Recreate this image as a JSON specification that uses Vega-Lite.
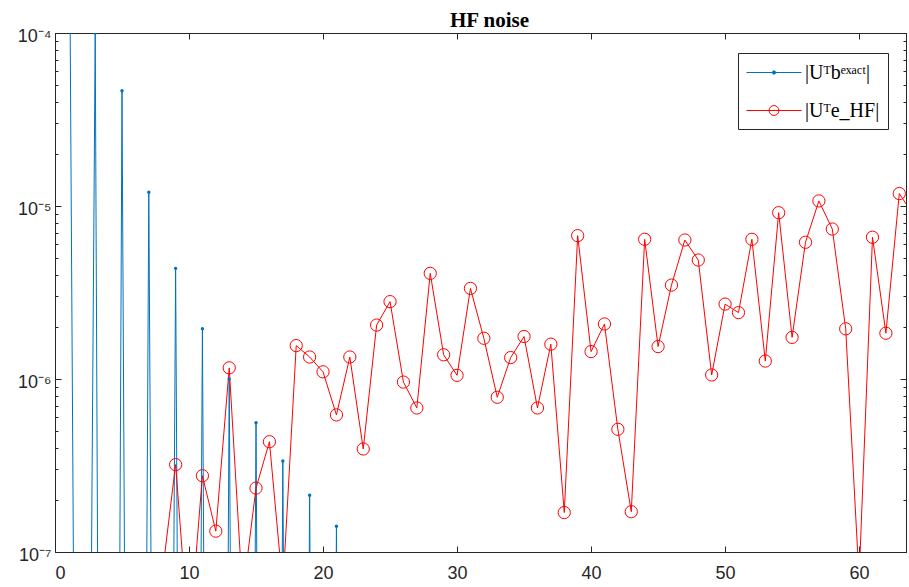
{
  "$schema": "https://vega.github.io/schema/vega-lite/v6.json",
  "autosize": "none",
  "width": 851,
  "height": 519,
  "padding": {"left": 55, "top": 33, "right": 3, "bottom": 35},
  "background": "white",
  "title": {"text": "HF noise", "font": "Liberation Serif", "fontSize": 21, "fontWeight": "bold", "color": "#000000", "offset": -4, "dx": 9},
  "config": {
    "view": {"stroke": "#262626", "strokeWidth": 1},
    "axis": {"grid": false, "title": null, "ticks": true, "tickWidth": 1, "zindex": 1, "domainColor": "#262626", "tickColor": "#262626", "labelColor": "#262626", "labelFont": "Liberation Sans", "labelFontSize": 18}
  },
  "data": {"values": [
    {"i":1,"series":"|Uᵀbᵉˣᵃᶜᵗ|","v":5e-3},{"i":2,"series":"|Uᵀbᵉˣᵃᶜᵗ|","v":1e-15},{"i":3,"series":"|Uᵀbᵉˣᵃᶜᵗ|","v":1.0e-4},{"i":4,"series":"|Uᵀbᵉˣᵃᶜᵗ|","v":1e-21},
    {"i":5,"series":"|Uᵀbᵉˣᵃᶜᵗ|","v":4.64e-5},{"i":6,"series":"|Uᵀbᵉˣᵃᶜᵗ|","v":1e-19},{"i":7,"series":"|Uᵀbᵉˣᵃᶜᵗ|","v":1.2e-5},{"i":8,"series":"|Uᵀbᵉˣᵃᶜᵗ|","v":1e-18},
    {"i":9,"series":"|Uᵀbᵉˣᵃᶜᵗ|","v":4.36e-6},{"i":10,"series":"|Uᵀbᵉˣᵃᶜᵗ|","v":1e-19},{"i":11,"series":"|Uᵀbᵉˣᵃᶜᵗ|","v":1.95e-6},{"i":12,"series":"|Uᵀbᵉˣᵃᶜᵗ|","v":3e-20},
    {"i":13,"series":"|Uᵀbᵉˣᵃᶜᵗ|","v":1.0e-6},{"i":14,"series":"|Uᵀbᵉˣᵃᶜᵗ|","v":1e-19},{"i":15,"series":"|Uᵀbᵉˣᵃᶜᵗ|","v":5.59e-7},{"i":16,"series":"|Uᵀbᵉˣᵃᶜᵗ|","v":2e-20},
    {"i":17,"series":"|Uᵀbᵉˣᵃᶜᵗ|","v":3.36e-7},{"i":18,"series":"|Uᵀbᵉˣᵃᶜᵗ|","v":1e-19},{"i":19,"series":"|Uᵀbᵉˣᵃᶜᵗ|","v":2.13e-7},{"i":20,"series":"|Uᵀbᵉˣᵃᶜᵗ|","v":5e-20},
    {"i":21,"series":"|Uᵀbᵉˣᵃᶜᵗ|","v":1.41e-7},{"i":22,"series":"|Uᵀbᵉˣᵃᶜᵗ|","v":1e-19},{"i":23,"series":"|Uᵀbᵉˣᵃᶜᵗ|","v":9.2e-8},{"i":24,"series":"|Uᵀbᵉˣᵃᶜᵗ|","v":2e-20},
    {"i":25,"series":"|Uᵀbᵉˣᵃᶜᵗ|","v":6.1e-8},{"i":26,"series":"|Uᵀbᵉˣᵃᶜᵗ|","v":1e-19},{"i":27,"series":"|Uᵀbᵉˣᵃᶜᵗ|","v":4.1e-8},{"i":28,"series":"|Uᵀbᵉˣᵃᶜᵗ|","v":5e-20},
    {"i":29,"series":"|Uᵀbᵉˣᵃᶜᵗ|","v":2.8e-8},{"i":30,"series":"|Uᵀbᵉˣᵃᶜᵗ|","v":1e-19},{"i":31,"series":"|Uᵀbᵉˣᵃᶜᵗ|","v":1.9e-8},{"i":32,"series":"|Uᵀbᵉˣᵃᶜᵗ|","v":3e-20},
    {"i":33,"series":"|Uᵀbᵉˣᵃᶜᵗ|","v":1.3e-8},{"i":34,"series":"|Uᵀbᵉˣᵃᶜᵗ|","v":1e-19},{"i":35,"series":"|Uᵀbᵉˣᵃᶜᵗ|","v":9e-9},{"i":36,"series":"|Uᵀbᵉˣᵃᶜᵗ|","v":2e-20},
    {"i":37,"series":"|Uᵀbᵉˣᵃᶜᵗ|","v":6e-9},{"i":38,"series":"|Uᵀbᵉˣᵃᶜᵗ|","v":1e-19},{"i":39,"series":"|Uᵀbᵉˣᵃᶜᵗ|","v":4e-9},{"i":40,"series":"|Uᵀbᵉˣᵃᶜᵗ|","v":5e-20},
    {"i":41,"series":"|Uᵀbᵉˣᵃᶜᵗ|","v":2.7e-9},{"i":42,"series":"|Uᵀbᵉˣᵃᶜᵗ|","v":1e-19},{"i":43,"series":"|Uᵀbᵉˣᵃᶜᵗ|","v":1.8e-9},{"i":44,"series":"|Uᵀbᵉˣᵃᶜᵗ|","v":3e-20},
    {"i":45,"series":"|Uᵀbᵉˣᵃᶜᵗ|","v":1.2e-9},{"i":46,"series":"|Uᵀbᵉˣᵃᶜᵗ|","v":1e-19},{"i":47,"series":"|Uᵀbᵉˣᵃᶜᵗ|","v":8e-10},{"i":48,"series":"|Uᵀbᵉˣᵃᶜᵗ|","v":2e-20},
    {"i":49,"series":"|Uᵀbᵉˣᵃᶜᵗ|","v":5.5e-10},{"i":50,"series":"|Uᵀbᵉˣᵃᶜᵗ|","v":1e-19},{"i":51,"series":"|Uᵀbᵉˣᵃᶜᵗ|","v":3.7e-10},{"i":52,"series":"|Uᵀbᵉˣᵃᶜᵗ|","v":5e-20},
    {"i":53,"series":"|Uᵀbᵉˣᵃᶜᵗ|","v":2.5e-10},{"i":54,"series":"|Uᵀbᵉˣᵃᶜᵗ|","v":1e-19},{"i":55,"series":"|Uᵀbᵉˣᵃᶜᵗ|","v":1.7e-10},{"i":56,"series":"|Uᵀbᵉˣᵃᶜᵗ|","v":3e-20},
    {"i":57,"series":"|Uᵀbᵉˣᵃᶜᵗ|","v":1.1e-10},{"i":58,"series":"|Uᵀbᵉˣᵃᶜᵗ|","v":1e-19},{"i":59,"series":"|Uᵀbᵉˣᵃᶜᵗ|","v":7.5e-11},{"i":60,"series":"|Uᵀbᵉˣᵃᶜᵗ|","v":2e-20},
    {"i":61,"series":"|Uᵀbᵉˣᵃᶜᵗ|","v":5e-11},{"i":62,"series":"|Uᵀbᵉˣᵃᶜᵗ|","v":1e-19},{"i":63,"series":"|Uᵀbᵉˣᵃᶜᵗ|","v":3.4e-11},{"i":64,"series":"|Uᵀbᵉˣᵃᶜᵗ|","v":5e-20},
    {"i":1,"series":"|Uᵀe_HF|","v":2e-8},{"i":2,"series":"|Uᵀe_HF|","v":4e-8},{"i":3,"series":"|Uᵀe_HF|","v":1.5e-8},{"i":4,"series":"|Uᵀe_HF|","v":5e-8},
    {"i":5,"series":"|Uᵀe_HF|","v":3e-8},{"i":6,"series":"|Uᵀe_HF|","v":6e-8},{"i":7,"series":"|Uᵀe_HF|","v":2.5e-8},{"i":8,"series":"|Uᵀe_HF|","v":7.4e-8},
    {"i":9,"series":"|Uᵀe_HF|","v":3.2e-7},{"i":10,"series":"|Uᵀe_HF|","v":3.0e-8},{"i":11,"series":"|Uᵀe_HF|","v":2.76e-7},{"i":12,"series":"|Uᵀe_HF|","v":1.32e-7},
    {"i":13,"series":"|Uᵀe_HF|","v":1.16e-6},{"i":14,"series":"|Uᵀe_HF|","v":5.6e-8},{"i":15,"series":"|Uᵀe_HF|","v":2.34e-7},{"i":16,"series":"|Uᵀe_HF|","v":4.34e-7},
    {"i":17,"series":"|Uᵀe_HF|","v":6.2e-8},{"i":18,"series":"|Uᵀe_HF|","v":1.56e-6},{"i":19,"series":"|Uᵀe_HF|","v":1.34e-6},{"i":20,"series":"|Uᵀe_HF|","v":1.10e-6},
    {"i":21,"series":"|Uᵀe_HF|","v":6.2e-7},{"i":22,"series":"|Uᵀe_HF|","v":1.34e-6},{"i":23,"series":"|Uᵀe_HF|","v":3.94e-7},{"i":24,"series":"|Uᵀe_HF|","v":2.05e-6},
    {"i":25,"series":"|Uᵀe_HF|","v":2.8e-6},{"i":26,"series":"|Uᵀe_HF|","v":9.6e-7},{"i":27,"series":"|Uᵀe_HF|","v":6.8e-7},{"i":28,"series":"|Uᵀe_HF|","v":4.08e-6},
    {"i":29,"series":"|Uᵀe_HF|","v":1.38e-6},{"i":30,"series":"|Uᵀe_HF|","v":1.05e-6},{"i":31,"series":"|Uᵀe_HF|","v":3.34e-6},{"i":32,"series":"|Uᵀe_HF|","v":1.72e-6},
    {"i":33,"series":"|Uᵀe_HF|","v":7.84e-7},{"i":34,"series":"|Uᵀe_HF|","v":1.33e-6},{"i":35,"series":"|Uᵀe_HF|","v":1.76e-6},{"i":36,"series":"|Uᵀe_HF|","v":6.8e-7},
    {"i":37,"series":"|Uᵀe_HF|","v":1.59e-6},{"i":38,"series":"|Uᵀe_HF|","v":1.69e-7},{"i":39,"series":"|Uᵀe_HF|","v":6.74e-6},{"i":40,"series":"|Uᵀe_HF|","v":1.44e-6},
    {"i":41,"series":"|Uᵀe_HF|","v":2.08e-6},{"i":42,"series":"|Uᵀe_HF|","v":5.12e-7},{"i":43,"series":"|Uᵀe_HF|","v":1.71e-7},{"i":44,"series":"|Uᵀe_HF|","v":6.42e-6},
    {"i":45,"series":"|Uᵀe_HF|","v":1.54e-6},{"i":46,"series":"|Uᵀe_HF|","v":3.49e-6},{"i":47,"series":"|Uᵀe_HF|","v":6.36e-6},{"i":48,"series":"|Uᵀe_HF|","v":4.87e-6},
    {"i":49,"series":"|Uᵀe_HF|","v":1.055e-6},{"i":50,"series":"|Uᵀe_HF|","v":2.71e-6},{"i":51,"series":"|Uᵀe_HF|","v":2.42e-6},{"i":52,"series":"|Uᵀe_HF|","v":6.42e-6},
    {"i":53,"series":"|Uᵀe_HF|","v":1.27e-6},{"i":54,"series":"|Uᵀe_HF|","v":9.15e-6},{"i":55,"series":"|Uᵀe_HF|","v":1.74e-6},{"i":56,"series":"|Uᵀe_HF|","v":6.17e-6},
    {"i":57,"series":"|Uᵀe_HF|","v":1.07e-5},{"i":58,"series":"|Uᵀe_HF|","v":7.36e-6},{"i":59,"series":"|Uᵀe_HF|","v":1.95e-6},{"i":60,"series":"|Uᵀe_HF|","v":7e-8},
    {"i":61,"series":"|Uᵀe_HF|","v":6.6e-6},{"i":62,"series":"|Uᵀe_HF|","v":1.84e-6},{"i":63,"series":"|Uᵀe_HF|","v":1.18e-5},{"i":64,"series":"|Uᵀe_HF|","v":9e-6}
  ]},
  "encoding": {
    "x": {"field": "i", "type": "quantitative", "scale": {"domain": [0, 63.5], "nice": false, "zero": false}},
    "y": {"field": "v", "type": "quantitative", "scale": {"type": "log", "domain": [1e-7, 1e-4], "nice": false}},
    "color": {"field": "series", "type": "nominal", "sort": ["|Uᵀbᵉˣᵃᶜᵗ|", "|Uᵀe_HF|"], "scale": {"domain": ["|Uᵀbᵉˣᵃᶜᵗ|", "|Uᵀe_HF|"], "range": ["#0072BD", "#FF0000"]},
      "legend": {"orient": "none", "legendX": 683, "legendY": 20, "title": null, "strokeColor": "#262626", "fillColor": "white", "padding": 8,
        "labelFont": "Liberation Serif", "labelFontSize": 20, "labelColor": "#000000", "rowPadding": 16, "symbolSize": 484, "labelOffset": 36,
        "encode": {"symbols": {"update": {
          "shape": {"signal": "datum.value === '|Uᵀbᵉˣᵃᶜᵗ|' ? 'M-1,0H4M1.65,0A0.15,0.15,0,1,1,1.35,0A0.15,0.15,0,1,1,1.65,0' : 'M-1,0H4M1.95,0A0.45,0.45,0,1,1,1.05,0A0.45,0.45,0,1,1,1.95,0'"},
          "fill": {"signal": "datum.value === '|Uᵀbᵉˣᵃᶜᵗ|' ? '#0072BD' : 'transparent'"},
          "fillOpacity": {"signal": "datum.value === '|Uᵀbᵉˣᵃᶜᵗ|' ? 1 : 0"},
          "stroke": {"signal": "datum.value === '|Uᵀbᵉˣᵃᶜᵗ|' ? '#0072BD' : '#FF0000'"},
          "strokeWidth": {"value": 1},
          "size": {"value": 484},
          "opacity": {"value": 1}
        }}}}
    }
  },
  "layer": [
    {
      "mark": {"type": "line", "clip": true, "strokeWidth": 1},
      "encoding": {
        "x": {"field": "i", "type": "quantitative", "axis": {"orient": "bottom", "values": [0,10,20,30,40,50,60], "tickSize": -6, "labelPadding": 18, "domain": true}},
        "y": {"field": "v", "type": "quantitative", "axis": {"orient": "left",
          "values": [1e-7,2e-7,3e-7,4e-7,5e-7,6e-7,7e-7,8e-7,9e-7,1e-6,2e-6,3e-6,4e-6,5e-6,6e-6,7e-6,8e-6,9e-6,1e-5,2e-5,3e-5,4e-5,5e-5,6e-5,7e-5,8e-5,9e-5,1e-4],
          "labelExpr": "datum.value < 1.5e-7 ? '10⁻⁷' : (abs(datum.value - 1e-6) < 1e-9 ? '10⁻⁶' : (abs(datum.value - 1e-5) < 1e-8 ? '10⁻⁵' : (abs(datum.value - 1e-4) < 1e-7 ? '10⁻⁴' : '')))",
          "tickSize": {"condition": {"test": "abs(log(datum.value)/LN10 - round(log(datum.value)/LN10)) < 1e-6", "value": -6}, "value": -3},
          "labelPadding": 10, "labelOffset": 3, "labelFlush": false, "labelOverlap": false}}
      }
    },
    {
      "transform": [{"filter": "datum.series === '|Uᵀbᵉˣᵃᶜᵗ|'"}],
      "mark": {"type": "point", "clip": true, "filled": true, "shape": "circle", "size": 12, "opacity": 1},
      "encoding": {
        "x": {"field": "i", "type": "quantitative", "axis": {"orient": "top", "values": [0,10,20,30,40,50,60], "tickSize": -6, "labels": false, "domain": true}},
        "y": {"field": "v", "type": "quantitative", "axis": {"orient": "right",
          "values": [1e-7,2e-7,3e-7,4e-7,5e-7,6e-7,7e-7,8e-7,9e-7,1e-6,2e-6,3e-6,4e-6,5e-6,6e-6,7e-6,8e-6,9e-6,1e-5,2e-5,3e-5,4e-5,5e-5,6e-5,7e-5,8e-5,9e-5,1e-4],
          "labels": false,
          "tickSize": {"condition": {"test": "abs(log(datum.value)/LN10 - round(log(datum.value)/LN10)) < 1e-6", "value": -6}, "value": -3}}}
      }
    },
    {
      "transform": [{"filter": "datum.series === '|Uᵀe_HF|'"}],
      "mark": {"type": "point", "clip": true, "filled": false, "shape": "circle", "size": 150, "strokeWidth": 1, "opacity": 1},
      "encoding": {
        "x": {"field": "i", "type": "quantitative", "axis": null},
        "y": {"field": "v", "type": "quantitative", "axis": null}
      }
    }
  ],
  "resolve": {"axis": {"x": "independent", "y": "independent"}}
}
